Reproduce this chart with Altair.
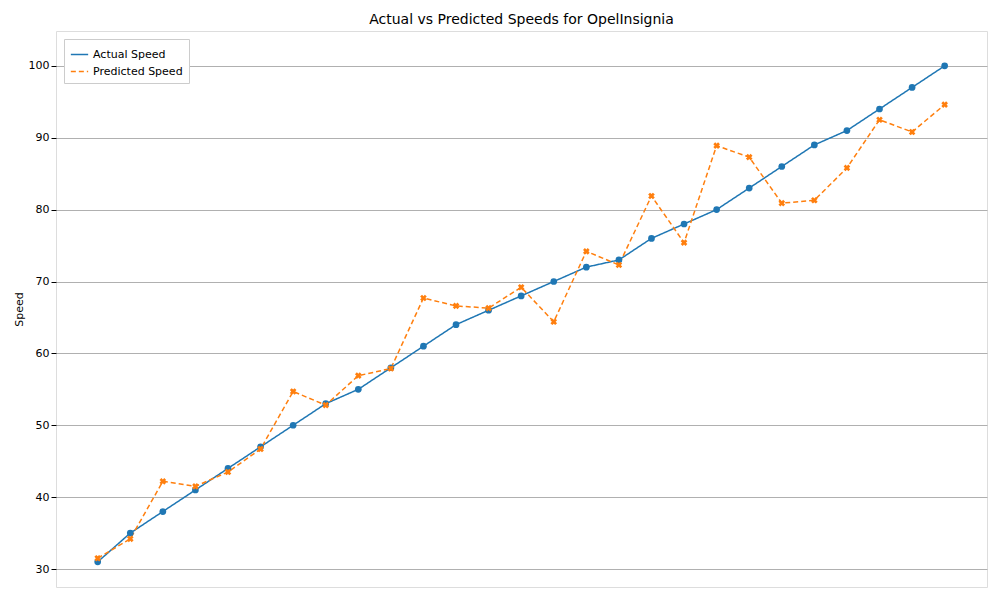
import altair as alt
import pandas as pd

idx = list(range(27))
actual = [31, 35, 38, 41, 44, 47, 50, 53, 55, 58, 61, 64, 66, 68, 70, 72, 73, 76, 78, 80, 83, 86, 89, 91, 94, 97, 100]
predicted = [31.5, 34.2, 42.2, 41.5, 43.5, 46.7, 54.7, 52.8, 56.9, 57.9, 67.7, 66.6, 66.3, 69.2, 64.4, 74.2,
             72.3, 81.9, 75.4, 88.9, 87.3, 80.9, 81.3, 85.8, 92.5, 90.8, 94.6]

names = ["Actual Speed", "Predicted Speed"]
df = pd.concat([
    pd.DataFrame({"i": idx, "Speed": actual, "Series": names[0]}),
    pd.DataFrame({"i": idx, "Speed": predicted, "Series": names[1]}),
])

colors = alt.Scale(domain=names, range=["#1f77b4", "#ff7f0e"])
x = alt.X("i:Q", scale=alt.Scale(domain=[-1.28, 27.3], nice=False, zero=False),
          axis=alt.Axis(labels=False, ticks=False, grid=False, title=None, domain=False))
y = alt.Y("Speed:Q", scale=alt.Scale(domain=[27.5, 104.85], nice=False, zero=False),
          axis=alt.Axis(values=list(range(30, 101, 10)), grid=True, gridColor="#b0b0b0",
                        title="Speed", titleFontWeight="normal", titleFontSize=11, domain=False,
                        labelFontSize=11, tickColor="black", labelColor="black"))
leg = alt.Legend(title=None, orient="top-left", offset=8, strokeColor="#ccc",
                 fillColor="white", padding=6, labelFontSize=11, symbolType="stroke",
                 symbolStrokeWidth=1.5, symbolSize=300)

line = alt.Chart(df).mark_line(strokeWidth=1.5).encode(
    x=x, y=y,
    color=alt.Color("Series:N", scale=colors, legend=leg),
    strokeDash=alt.StrokeDash("Series:N", scale=alt.Scale(domain=names, range=[[1, 0], [5, 3]]), legend=leg),
)
pts_a = alt.Chart(df[df.Series == names[0]]).mark_point(filled=True, size=45, opacity=1, color="#1f77b4").encode(
    x=x, y=y)
pts_p = alt.Chart(df[df.Series == names[1]]).mark_point(shape="cross", angle=45, filled=True,
                                                        size=45, opacity=1, color="#ff7f0e").encode(x=x, y=y)

chart = (line + pts_a + pts_p).properties(
    width=984, height=584, autosize=alt.AutoSizeParams(type="fit", contains="padding"),
    title=alt.Title("Actual vs Predicted Speeds for OpelInsignia", fontSize=14, fontWeight="normal"),
).configure_view(stroke="black", strokeWidth=1).configure(font="DejaVu Sans")

chart.save("out.html", embed_options={"renderer": "svg", "actions": False})
